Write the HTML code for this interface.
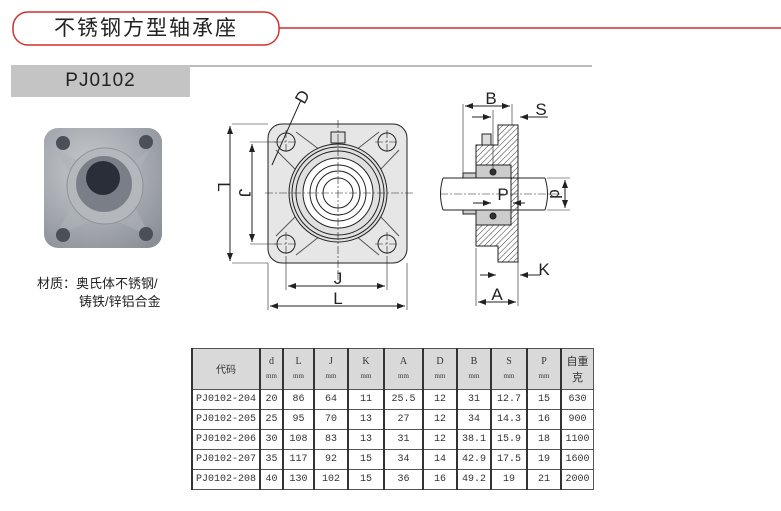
<!DOCTYPE html>
<html><head><meta charset="utf-8"><style>
body{margin:0;width:781px;height:511px;background:#fff;overflow:hidden;position:relative;font-family:"Liberation Sans","Noto Sans CJK SC",sans-serif}
.t{position:absolute}
table{position:absolute;left:191px;top:348px;border-collapse:collapse;font-family:"Liberation Mono","Noto Serif CJK SC",monospace;font-size:10px;color:#333}
td{border:1px solid #555;border-left:2px solid #333;text-align:center;padding:0;height:19px}
tr.h td{background:#d9d9d9;height:40px;line-height:14px;font-family:"Liberation Serif",serif}
.mm{font-size:7px}
</style></head><body>
<svg width="781" height="511" style="position:absolute;left:0;top:0">
<defs>
<pattern id="ht" width="4" height="4" patternUnits="userSpaceOnUse" patternTransform="rotate(45)"><rect width="4" height="4" fill="#fff"/><line x1="0" y1="0" x2="0" y2="4" stroke="#333" stroke-width="1"/></pattern>
<marker id="a" markerWidth="8" markerHeight="6" refX="8" refY="3" orient="auto-start-reverse"><path d="M0,0L8,3L0,6z" fill="#222"/></marker>
<radialGradient id="pg" cx="0.4" cy="0.35" r="0.8"><stop offset="0" stop-color="#c8ccd0"/><stop offset="1" stop-color="#8a8f96"/></radialGradient>
</defs>
<rect x="13" y="12" width="266" height="33" rx="15" fill="#fff" stroke="#d32f2f" stroke-width="1.5"/>
<line x1="279" y1="28" x2="781" y2="28" stroke="#d32f2f" stroke-width="1.5"/>
<rect x="11" y="65" width="179" height="32" fill="#c4c4c4"/>
<line x1="190" y1="66" x2="592" y2="66" stroke="#bbb" stroke-width="2"/>
<!-- photo -->
<rect x="44" y="128" width="118" height="120" rx="14" fill="url(#pg)"/>
<path d="M56,150 L110,176 L150,150 L126,190 L150,236 L103,215 L56,236 L80,190z" fill="#aeb2b7" opacity="0.6"/>
<circle cx="63" cy="143" r="7" fill="#4a4f58"/><circle cx="146" cy="142" r="7" fill="#4a4f58"/>
<circle cx="63" cy="235" r="7" fill="#4a4f58"/><circle cx="146" cy="234" r="7" fill="#4a4f58"/>
<circle cx="105" cy="186" r="38" fill="#b4b8bd" stroke="#8d9198"/><circle cx="104" cy="184" r="28" fill="#7a7f87"/><circle cx="103" cy="178" r="17" fill="#2a2e38"/>
<!-- front view -->
<g stroke="#222" fill="none" stroke-width="1">
<rect x="268" y="124" width="139" height="139" rx="14" fill="#e6e6e6"/>
<path d="M296,132 L320,150 M356,150 L379,132 M296,255 L320,236 M356,236 L379,255 M276,150 L296,170 M399,150 L380,170 M276,236 L296,216 M399,236 L380,216" stroke="#555"/>
<circle cx="338" cy="193" r="49" fill="#e0e0e0"/>
<circle cx="338" cy="193" r="46"/><circle cx="338" cy="193" r="42"/>
<circle cx="338" cy="193" r="35" fill="#fff"/><circle cx="338" cy="193" r="28"/>
<circle cx="338" cy="193" r="22"/><circle cx="338" cy="193" r="15"/>
<rect x="331" y="132" width="14" height="11" fill="#ddd"/>
<g><circle cx="286" cy="142" r="9"/><circle cx="387" cy="142" r="9"/><circle cx="286" cy="244" r="9"/><circle cx="387" cy="244" r="9"/></g>
<g stroke-width="0.6"><path d="M274,142h24M286,130v24M375,142h24M387,130v24M274,244h24M286,232v24M375,244h24M387,232v24M265,193h148M338,120v160" stroke-dasharray="8 2 2 2"/></g>
<line x1="301" y1="100" x2="272" y2="165"/>
<line x1="232" y1="124" x2="268" y2="124" stroke-width="0.6"/><line x1="232" y1="263" x2="268" y2="263" stroke-width="0.6"/>
<line x1="230" y1="126" x2="230" y2="261" marker-start="url(#a)" marker-end="url(#a)"/>
<line x1="250" y1="142" x2="276" y2="142" stroke-width="0.6"/><line x1="250" y1="244" x2="276" y2="244" stroke-width="0.6"/>
<line x1="252" y1="144" x2="252" y2="242" marker-start="url(#a)" marker-end="url(#a)"/>
<line x1="286" y1="256" x2="286" y2="290" stroke-width="0.6"/><line x1="387" y1="256" x2="387" y2="290" stroke-width="0.6"/>
<line x1="288" y1="286" x2="385" y2="286" marker-start="url(#a)" marker-end="url(#a)"/>
<line x1="268" y1="263" x2="268" y2="310" stroke-width="0.6"/><line x1="407" y1="263" x2="407" y2="310" stroke-width="0.6"/>
<line x1="270" y1="306" x2="405" y2="306" marker-start="url(#a)" marker-end="url(#a)"/>
</g>
<g font-family="Liberation Sans" font-size="17" fill="#222">
<text x="218" y="199" text-anchor="middle" transform="rotate(90 224 193)">L</text>
<text x="245" y="199" text-anchor="middle" transform="rotate(90 245 193)">J</text>
<text x="338" y="284" text-anchor="middle">J</text>
<text x="338" y="304" text-anchor="middle">L</text>
<text x="299" y="108" transform="rotate(-60 299 102)">D</text>
</g>
<!-- side view -->
<g stroke="#222" stroke-width="1">
<path d="M498,125 H518 V262 H498 V246 H476 V225 H511 V165 H476 V145 H498z" fill="url(#ht)"/>
<rect x="476" y="165" width="35" height="13" fill="#ccc"/>
<rect x="476" y="210" width="35" height="15" fill="#ccc"/>
<rect x="463" y="173" width="13" height="5" fill="#ccc"/>
<rect x="463" y="210" width="13" height="4" fill="#ccc"/>
<rect x="482" y="134" width="9" height="11" fill="#ddd"/>
<path d="M443,178 H545 M443,210 H545" fill="none"/>
<path d="M443,178 Q438,194 443,210 M545,178 Q550,194 545,210" fill="none"/>
<circle cx="493" cy="172" r="3" fill="#333"/><circle cx="493" cy="216" r="3" fill="#333"/>
<line x1="440" y1="194" x2="560" y2="194" stroke-width="0.6" stroke-dasharray="8 2 2 2"/>
<line x1="493" y1="110" x2="493" y2="172" stroke-width="0.6"/>
<line x1="463" y1="104" x2="463" y2="174" stroke-width="0.6"/><line x1="512" y1="104" x2="512" y2="125" stroke-width="0.6"/>
<line x1="465" y1="106" x2="510" y2="106" marker-start="url(#a)" marker-end="url(#a)"/>
<line x1="472" y1="117" x2="491" y2="117" marker-end="url(#a)"/><line x1="548" y1="117" x2="520" y2="117" marker-end="url(#a)"/>
<line x1="473" y1="203" x2="491" y2="203" marker-end="url(#a)"/><line x1="525" y1="203" x2="513" y2="203" marker-end="url(#a)"/>
<line x1="547" y1="178" x2="570" y2="178" stroke-width="0.6"/><line x1="547" y1="210" x2="570" y2="210" stroke-width="0.6"/>
<line x1="565" y1="180" x2="565" y2="208" marker-start="url(#a)" marker-end="url(#a)"/>
<line x1="476" y1="248" x2="476" y2="306" stroke-width="0.6"/><line x1="518" y1="262" x2="518" y2="306" stroke-width="0.6"/>
<line x1="478" y1="302" x2="516" y2="302" marker-start="url(#a)" marker-end="url(#a)"/>
<line x1="480" y1="275" x2="496" y2="275" marker-end="url(#a)"/><line x1="540" y1="275" x2="520" y2="275" marker-end="url(#a)"/>
</g>
<g font-family="Liberation Sans" font-size="17" fill="#222">
<text x="491" y="104" text-anchor="middle">B</text>
<text x="541" y="115" text-anchor="middle">S</text>
<text x="503" y="200" text-anchor="middle">P</text>
<text x="556" y="200" text-anchor="middle" transform="rotate(90 556 194)">d</text>
<text x="544" y="275" text-anchor="middle">K</text>
<text x="497" y="300" text-anchor="middle">A</text>
</g>
</svg>
<div class="t" style="left:13px;top:13px;width:266px;text-align:center;font-size:21px;letter-spacing:2px;line-height:32px;color:#222">不锈钢方型轴承座</div>
<div class="t" style="left:11px;top:65px;width:179px;text-align:center;font-size:19px;line-height:32px;color:#222;letter-spacing:1px">PJ0102</div>
<div class="t" style="left:37px;top:275px;font-size:13px;line-height:18px;color:#222">材质：奥氏体不锈钢/<br><span style="padding-left:42px">铸铁/锌铝合金</span></div>
<table>
<tr class="h"><td style="width:66px;font-family:'Noto Sans CJK SC',sans-serif">代码</td><td style="width:21px">d<br><span class="mm">mm</span></td><td style="width:29px">L<br><span class="mm">mm</span></td><td style="width:32px">J<br><span class="mm">mm</span></td><td style="width:34px">K<br><span class="mm">mm</span></td><td style="width:37px">A<br><span class="mm">mm</span></td><td style="width:32px">D<br><span class="mm">mm</span></td><td style="width:32px">B<br><span class="mm">mm</span></td><td style="width:34px">S<br><span class="mm">mm</span></td><td style="width:32px">P<br><span class="mm">mm</span></td><td style="width:31px;font-family:'Noto Sans CJK SC',sans-serif;font-size:11px;line-height:16px">自重<br>克</td></tr>
<tr><td>PJ0102-204</td><td>20</td><td>86</td><td>64</td><td>11</td><td>25.5</td><td>12</td><td>31</td><td>12.7</td><td>15</td><td>630</td></tr>
<tr><td>PJ0102-205</td><td>25</td><td>95</td><td>70</td><td>13</td><td>27</td><td>12</td><td>34</td><td>14.3</td><td>16</td><td>900</td></tr>
<tr><td>PJ0102-206</td><td>30</td><td>108</td><td>83</td><td>13</td><td>31</td><td>12</td><td>38.1</td><td>15.9</td><td>18</td><td>1100</td></tr>
<tr><td>PJ0102-207</td><td>35</td><td>117</td><td>92</td><td>15</td><td>34</td><td>14</td><td>42.9</td><td>17.5</td><td>19</td><td>1600</td></tr>
<tr><td>PJ0102-208</td><td>40</td><td>130</td><td>102</td><td>15</td><td>36</td><td>16</td><td>49.2</td><td>19</td><td>21</td><td>2000</td></tr>
</table>
</body></html>
